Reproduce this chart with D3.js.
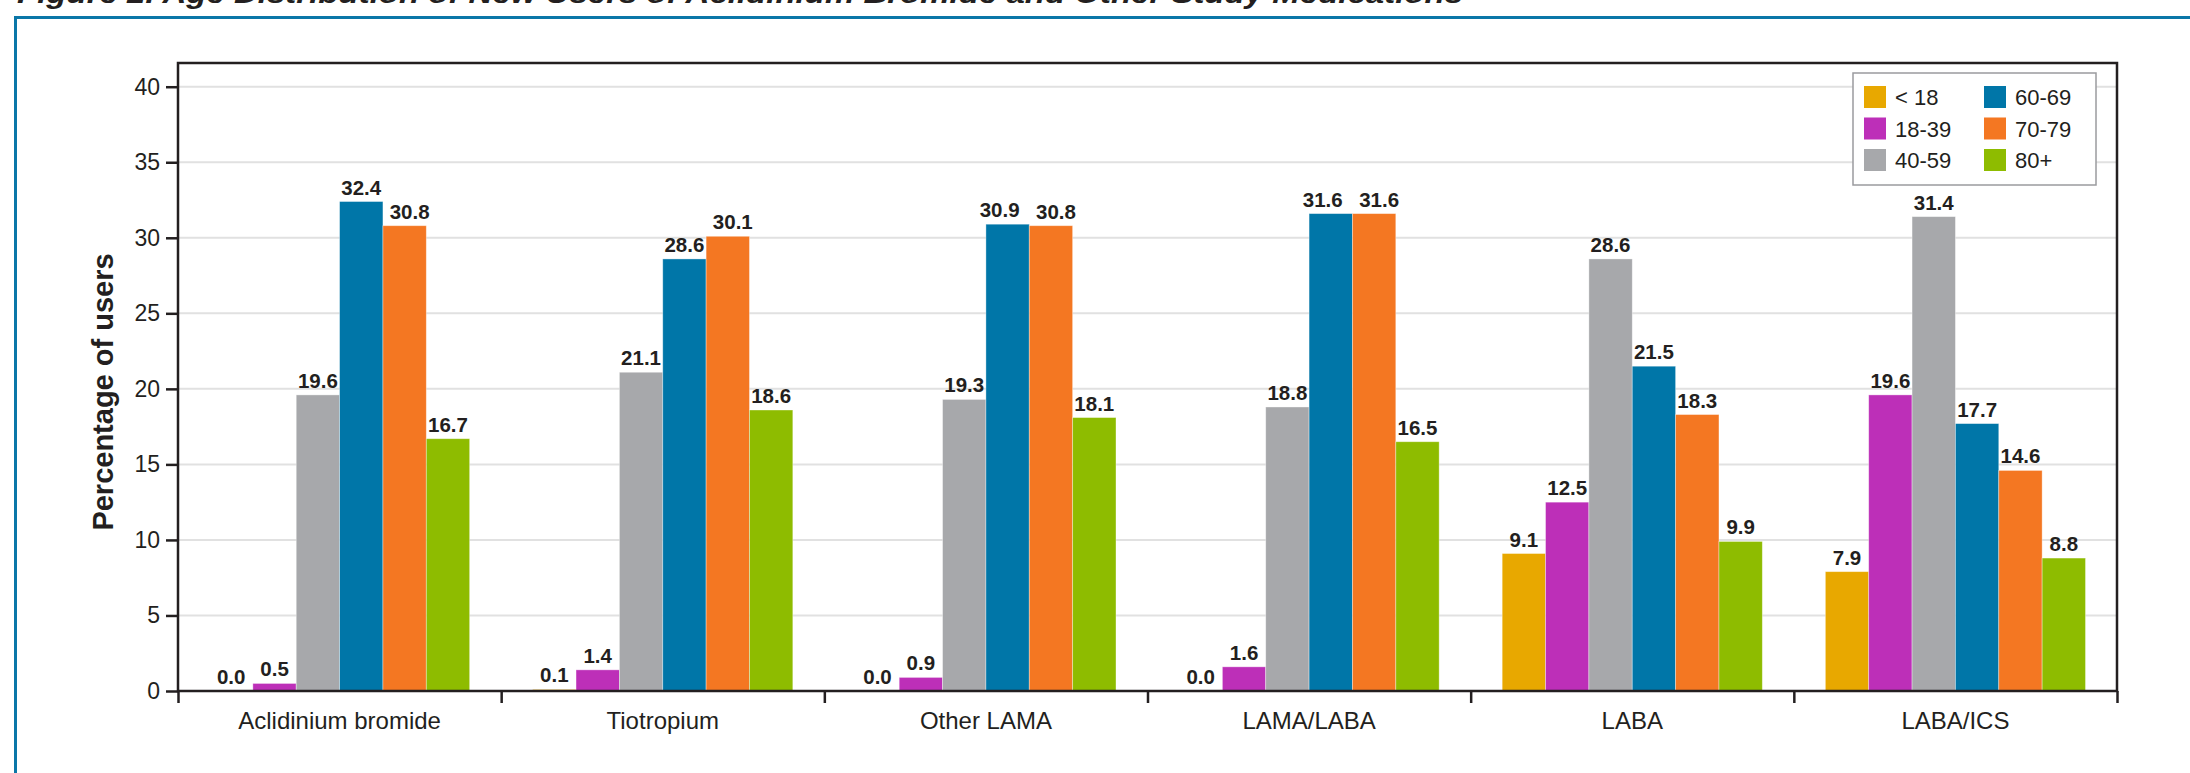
<!DOCTYPE html>
<html>
<head>
<meta charset="utf-8">
<script src="https://cdn.jsdelivr.net/npm/d3@7"></script>
<style>
  html, body { margin: 0; padding: 0; background: #fff; }
  svg { display: block; }
  text { font-family: "Liberation Sans", Arial, Helvetica, sans-serif; fill: #231f20; }
</style>
</head>
<body>
<svg id="chart" width="2190" height="773"></svg>
<script>
// Study medications (x groups)
const categories = ["Aclidinium bromide", "Tiotropium", "Other LAMA", "LAMA/LABA", "LABA", "LABA/ICS"];
// Age bands (series)
const ageGroups = ["< 18", "18-39", "40-59", "60-69", "70-79", "80+"];
const seriesColors = ["#e8a800", "#bd2fb8", "#a7a8ab", "#0076a8", "#f47722", "#8ebc00"];
// Percentage of new users per age band, one array per medication
const aclidinium = [0.0, 0.5, 19.6, 32.4, 30.8, 16.7];
const tiotropium = [0.1, 1.4, 21.1, 28.6, 30.1, 18.6];
const otherLama  = [0.0, 0.9, 19.3, 30.9, 30.8, 18.1];
const lamaLaba   = [0.0, 1.6, 18.8, 31.6, 31.6, 16.5];
const laba       = [9.1, 12.5, 28.6, 21.5, 18.3, 9.9];
const labaIcs    = [7.9, 19.6, 31.4, 17.7, 14.6, 8.8];
const yTicks = [0, 5, 10, 15, 20, 25, 30, 35, 40];

const groupValues = [aclidinium, tiotropium, otherLama, lamaLaba, laba, labaIcs];
const rows = categories.map((c, i) => ({ category: c, values: groupValues[i] }));

const svg = d3.select("#chart");
const plotLeft = 178, plotRight = 2117, plotTop = 63, plotBottom = 691;
const ink = "#231f20";

// Figure frame and caption
svg.append("rect")
  .attr("x", 15.5).attr("y", 17.5)
  .attr("width", 2300).attr("height", 900)
  .attr("fill", "none").attr("stroke", "#0b77a8").attr("stroke-width", 3);

svg.append("text")
  .attr("x", 17).attr("y", 3)
  .attr("font-size", 28).attr("font-weight", "bold").attr("font-style", "italic")
  .attr("textLength", 1446).attr("lengthAdjust", "spacingAndGlyphs")
  .text("Figure 2. Age Distribution of New Users of Aclidinium Bromide and Other Study Medications");

// Scales
const x0 = d3.scaleBand().domain(categories).range([plotLeft, plotRight])
  .paddingInner(0.195).paddingOuter(0.0975);
const x1 = d3.scaleBand().domain(ageGroups).range([0, x0.bandwidth()]).padding(0);
const y = d3.scaleLinear().domain([0, 41.57]).range([plotBottom, plotTop]);
const color = d3.scaleOrdinal().domain(ageGroups).range(seriesColors);
const sep = d3.scaleLinear().domain([0, categories.length]).range([plotLeft, plotRight]);

// Gridlines
svg.append("g")
  .selectAll("line")
  .data(yTicks.filter(t => t > 0))
  .join("line")
  .attr("x1", plotLeft).attr("x2", plotRight)
  .attr("y1", d => y(d)).attr("y2", d => y(d))
  .attr("stroke", "#e1e1e1").attr("stroke-width", 2);

// Bars
const groups = svg.append("g")
  .selectAll("g")
  .data(rows)
  .join("g")
  .attr("transform", d => `translate(${x0(d.category)},0)`);

// Each cell carries a small horizontal nudge so that labels of neighbouring
// bars with similar heights do not run into each other.
const cells = d => d.values.map((v, i) => {
  const prev = i > 0 ? d.values[i - 1] : null;
  const next = i < d.values.length - 1 ? d.values[i + 1] : null;
  let nudge = 0;
  if (prev !== null && Math.abs(y(prev) - y(v)) < 30 && v > 5) nudge += 5;
  if (next !== null && Math.abs(y(next) - y(v)) < 4 && v > 5) nudge -= 8;
  return { key: ageGroups[i], value: v, nudge };
});

groups.selectAll("rect")
  .data(cells)
  .join("rect")
  .attr("x", d => x1(d.key))
  .attr("y", d => y(d.value))
  .attr("width", x1.bandwidth())
  .attr("height", d => y(0) - y(d.value))
  .attr("fill", d => color(d.key))
  .attr("stroke", "#ffffff").attr("stroke-opacity", 0.45).attr("stroke-width", 0.8);

groups.selectAll("text")
  .data(cells)
  .join("text")
  .attr("x", d => x1(d.key) + x1.bandwidth() / 2 + d.nudge)
  .attr("y", d => y(d.value) - 7)
  .attr("text-anchor", "middle")
  .attr("font-size", 20.5).attr("font-weight", "bold")
  .text(d => d.value.toFixed(1));

// Y axis
const yAxis = svg.append("g")
  .attr("transform", `translate(${plotLeft},0)`)
  .call(d3.axisLeft(y).tickValues(yTicks).tickSize(12).tickPadding(6).tickFormat(d3.format("d")));
yAxis.select(".domain").remove();
yAxis.selectAll(".tick line").attr("stroke", ink).attr("stroke-width", 2.5);
yAxis.selectAll(".tick text").attr("font-size", 23).attr("fill", ink)
  .style("font-family", "'Liberation Sans', Arial, sans-serif");

// X axis: group separators and category labels
const sepAxis = svg.append("g")
  .attr("transform", `translate(0,${plotBottom})`)
  .call(d3.axisBottom(sep).tickValues(d3.range(categories.length + 1)).tickSize(12).tickFormat(""));
sepAxis.select(".domain").remove();
sepAxis.selectAll(".tick line").attr("stroke", ink).attr("stroke-width", 2.5);

const xAxis = svg.append("g")
  .attr("transform", `translate(0,${plotBottom})`)
  .call(d3.axisBottom(x0).tickSize(0).tickPadding(21));
xAxis.select(".domain").remove();
xAxis.selectAll(".tick text").attr("font-size", 24).attr("fill", ink)
  .style("font-family", "'Liberation Sans', Arial, sans-serif");

// Plot frame
svg.append("path")
  .attr("d", `M${plotLeft},${plotBottom}V${plotTop}H${plotRight}V${plotBottom}H${plotLeft}Z`)
  .attr("fill", "none").attr("stroke", ink).attr("stroke-width", 2.5);

// Y axis title
svg.append("text")
  .attr("transform", `translate(113,${(plotTop + plotBottom) / 2 + 15}) rotate(-90)`)
  .attr("text-anchor", "middle")
  .attr("font-size", 29).attr("font-weight", "bold")
  .text("Percentage of users");

// Legend
const legend = svg.append("g").attr("transform", "translate(1853,73)");
legend.append("rect")
  .attr("width", 243).attr("height", 112)
  .attr("fill", "#fff").attr("stroke", "#9a9b9e").attr("stroke-width", 1.5);
const items = legend.selectAll("g.item")
  .data(ageGroups)
  .join("g")
  .attr("class", "item")
  .attr("transform", (d, i) => `translate(${11 + Math.floor(i / 3) * 120},${13 + (i % 3) * 31.5})`);
items.append("rect")
  .attr("width", 22).attr("height", 22)
  .attr("fill", d => color(d));
items.append("text")
  .attr("x", 31).attr("y", 19)
  .attr("font-size", 22)
  .text(d => d);
</script>
</body>
</html>
